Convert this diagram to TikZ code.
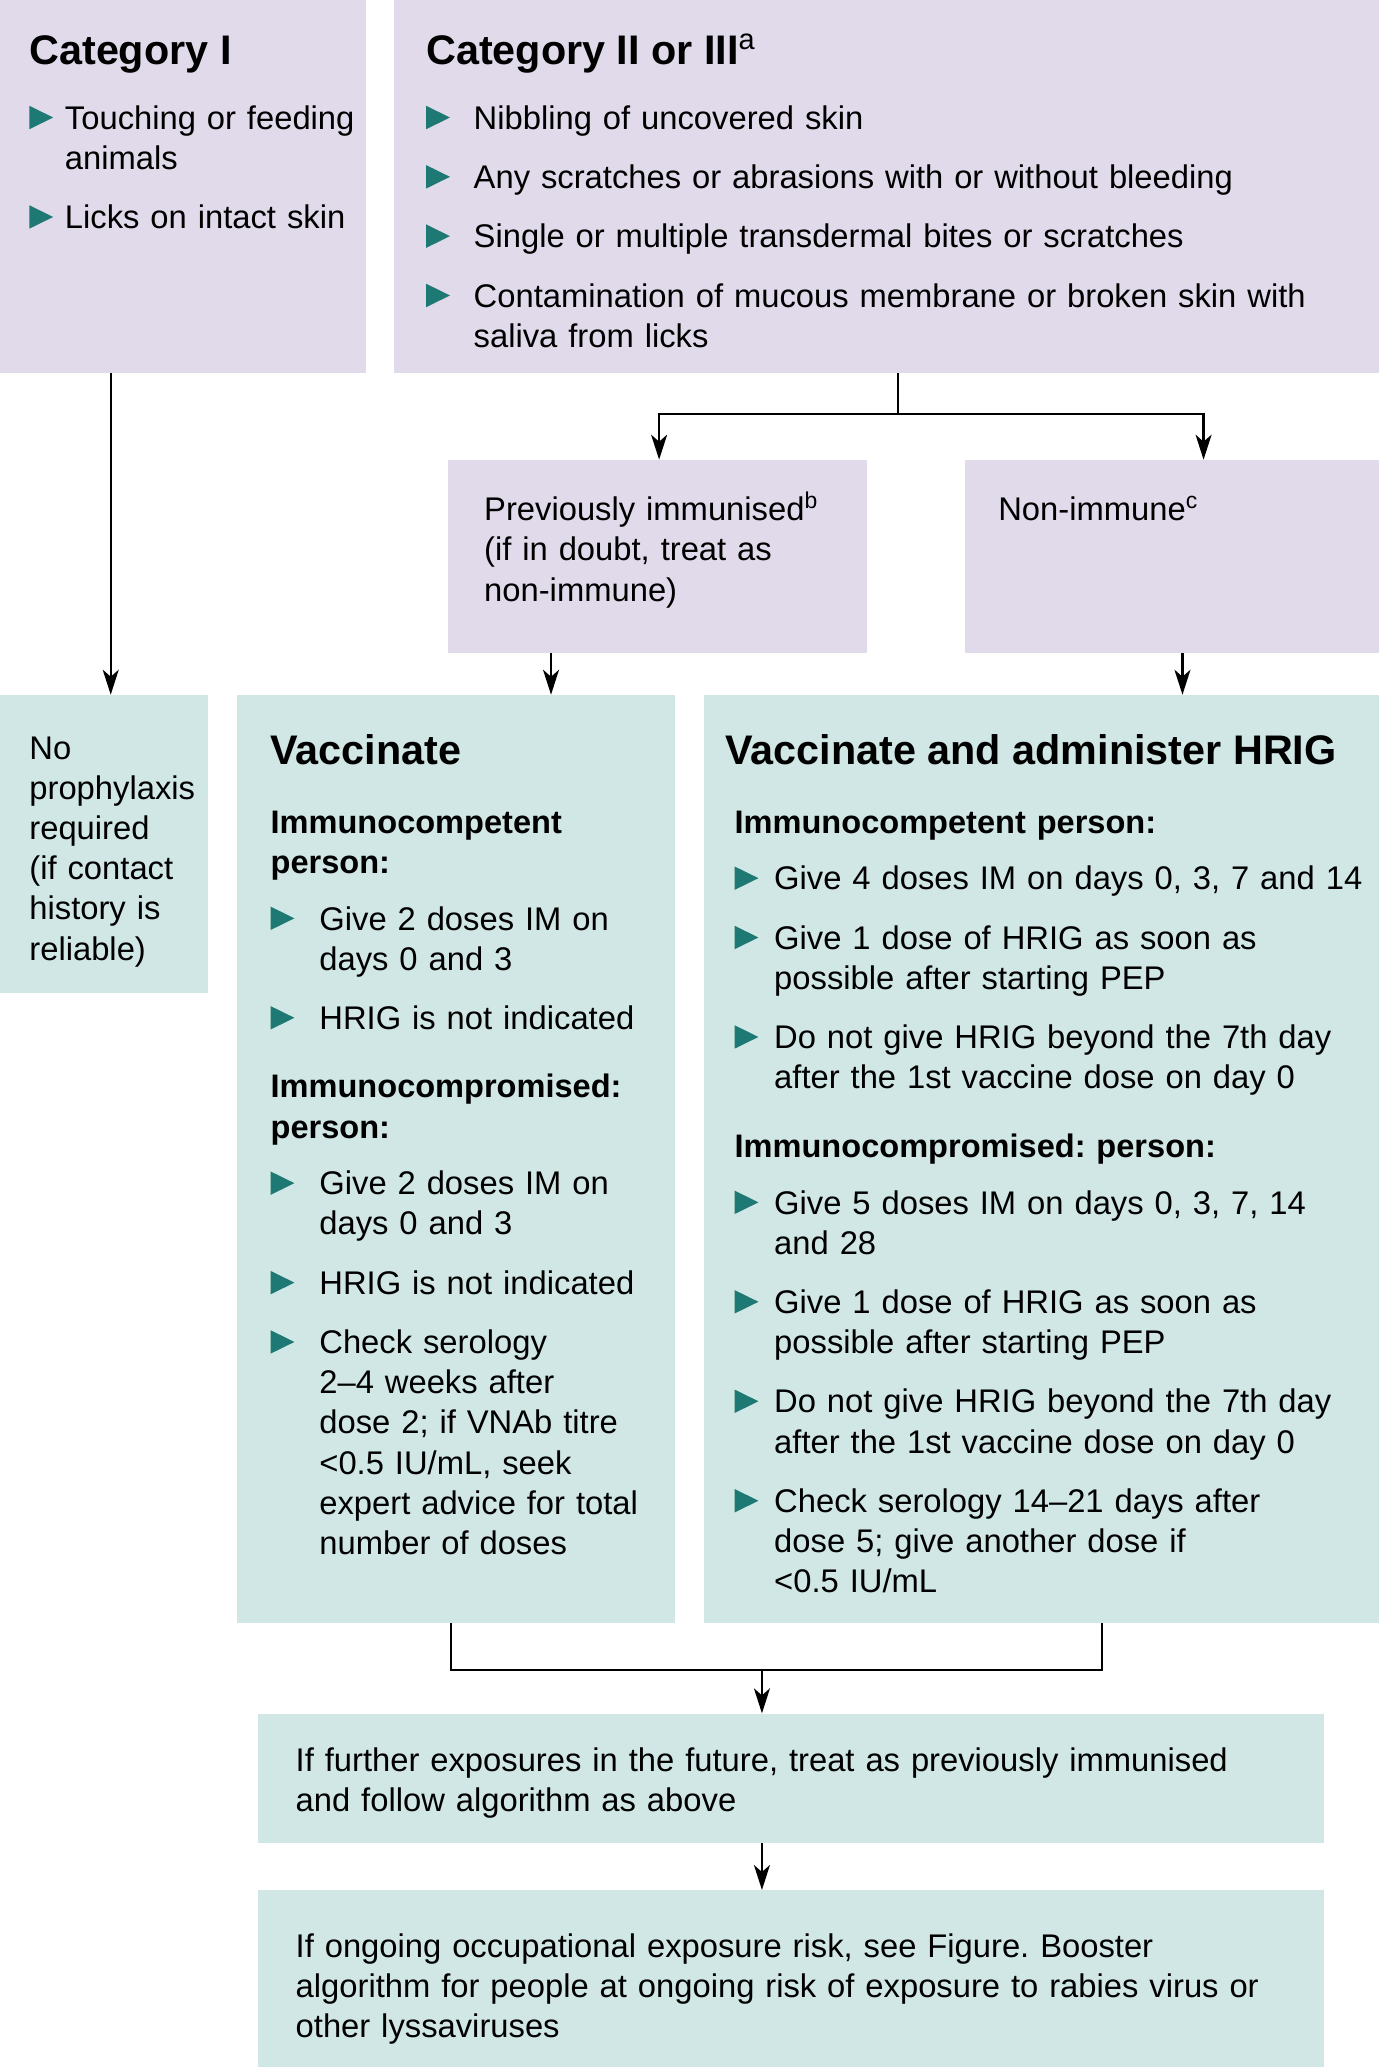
\documentclass[tikz,border=0pt]{standalone}
\usepackage{fontspec}
\setmainfont{Liberation Sans}
\usetikzlibrary{arrows.meta,fit}
\definecolor{lav}{RGB}{224,218,234}
\definecolor{mint}{RGB}{208,231,229}
\definecolor{bulc}{RGB}{30,120,115}
\frenchspacing
\newlength\bulind
\newlength\itemgap \setlength\itemgap{9.6pt}
\newcommand\bultri{\tikz[baseline=0pt]\fill[bulc] (0pt,0pt) -- (0pt,11.7pt) -- (11.9pt,5.85pt) -- cycle;}
\newcommand\bitem[1]{\noindent\hangindent=\bulind\hangafter=1\makebox[\bulind][l]{\bultri}#1\par\addvspace{\itemgap}}
\newcommand\subhd[1]{\noindent{\bfseries\fontsize{16.3}{20.1}\selectfont #1}\par\addvspace{8.3pt}}
\newcommand\subgap{\par\addvspace{14.2pt}}
\begin{document}
\begin{tikzpicture}[x=0.66pt,y=-0.66pt,
  lavbox/.style={fill=lav, inner sep=0},
  mintbox/.style={fill=mint, inner sep=0},
  ttl/.style={anchor=base west, inner sep=0, font=\fontsize{20.7}{24}\selectfont\bfseries},
  txt/.style={anchor=base west, inner sep=0, align=left, text width=#1, font=\fontsize{16.4}{20.1}\selectfont},
  lst/.style 2 args={txt=#1, execute at begin node={\setlength\bulind{#2}}},
  arr/.style={-{Stealth[length=12.5pt,width=8pt,inset=3.5pt]}, line width=1.1pt},
  ln/.style={line width=1.1pt}]
\useasboundingbox (0,0) rectangle (1046,1568);

\node[lavbox, fit={(0,0) (278,283)}] (catI) {};
\node[lavbox, fit={(299,0) (1046,283)}] (catII) {};
\node[lavbox, fit={(340,349) (658,495)}] (prev) {};
\node[lavbox, fit={(732,349) (1046,495)}] (nonimm) {};
\node[mintbox, fit={(0,527) (158,753)}] (noproph) {};
\node[mintbox, fit={(180,527) (512,1231)}] (vacc) {};
\node[mintbox, fit={(534,527) (1046,1231)}] (hrig) {};
\node[mintbox, fit={(196,1300) (1004,1398)}] (further) {};
\node[mintbox, fit={(196,1434) (1004,1568)}] (ongoing) {};

\node[ttl] (catIt) at (22,49) {Category I};
\node[lst={190pt}{17.8pt}] (catIl) at (22,98) {\bitem{Touching or feeding\newline animals}\bitem{Licks on intact skin}};
\node[ttl] (catIIt) at (323,49) {Category II or III\textsuperscript{\normalfont a}};
\node[lst={500pt}{23.8pt}] (catIIl) at (323,98) {\bitem{Nibbling of uncovered skin}\bitem{Any scratches or abrasions with or without bleeding}\bitem{Single or multiple transdermal bites or scratches}\bitem{Contamination of mucous membrane or broken skin with\newline saliva from licks}};
\node[txt=210pt] (prevt) at (367,395) {Previously immunised\textsuperscript{b}\\(if in doubt, treat as\\non-immune)};
\node[txt=200pt] (nonimmt) at (757,395) {Non-immune\textsuperscript{c}};
\node[txt=100pt] (noprt) at (22,576) {No\\prophylaxis\\required\\(if contact\\history is\\reliable)};
\node[ttl] (vacct) at (205,580) {Vaccinate};
\node[lst={215pt}{24.4pt}] (vaccl) at (205,632) {\subhd{Immunocompetent\newline person:}\bitem{Give 2 doses IM on\newline days 0 and 3}\bitem{HRIG is not indicated}\subgap\subhd{Immunocompromised:\newline person:}\bitem{Give 2 doses IM on\newline days 0 and 3}\bitem{HRIG is not indicated}\bitem{Check serology\newline 2–4 weeks after\newline dose 2; if VNAb titre\newline <0.5 IU/mL, seek\newline expert advice for total\newline number of doses}};
\node[ttl] (hrigt) at (550,580) {Vaccinate and administer HRIG};
\node[lst={330pt}{19.8pt}] (hrigl) at (557,632) {\subhd{Immunocompetent person:}\bitem{Give 4 doses IM on days 0, 3, 7 and 14}\bitem{Give 1 dose of HRIG as soon as\newline possible after starting PEP}\bitem{Do not give HRIG beyond the 7th day\newline after the 1st vaccine dose on day 0}\subgap\subhd{Immunocompromised: person:}\bitem{Give 5 doses IM on days 0, 3, 7, 14\newline and 28}\bitem{Give 1 dose of HRIG as soon as\newline possible after starting PEP}\bitem{Do not give HRIG beyond the 7th day\newline after the 1st vaccine dose on day 0}\bitem{Check serology 14–21 days after\newline dose 5; give another dose if\newline <0.5 IU/mL}};
\node[txt=560pt] (furthert) at (224,1344) {If further exposures in the future, treat as previously immunised\\and follow algorithm as above};
\node[txt=560pt] (ongoingt) at (224,1485) {If ongoing occupational exposure risk, see Figure. Booster\\algorithm for people at ongoing risk of exposure to rabies virus or\\other lyssaviruses};

\coordinate (s1) at (84,527);
\draw[arr] (catI.south -| s1) -- (s1);
\coordinate (sp) at (681,314);
\coordinate (pl) at (500,314);
\coordinate (pr) at (913,314);
\draw[ln] (catII.south -| sp) -- (sp);
\draw[arr] (sp) -- (pl) -- (prev.north -| pl);
\draw[arr] (sp) -- (pr) -- (nonimm.north -| pr);
\coordinate (v1) at (418,527);
\coordinate (h1) at (897,527);
\draw[arr] (prev.south -| v1) -- (v1);
\draw[arr] (nonimm.south -| h1) -- (h1);
\coordinate (jl) at (342,1267);
\coordinate (jr) at (836,1267);
\coordinate (jm) at (578,1267);
\draw[ln] (vacc.south -| jl) -- (jl) -- (jr) -- (hrig.south -| jr);
\draw[arr] (jm) -- (further.north -| jm);
\draw[arr] (further.south -| jm) -- (ongoing.north -| jm);
\end{tikzpicture}
\end{document}
